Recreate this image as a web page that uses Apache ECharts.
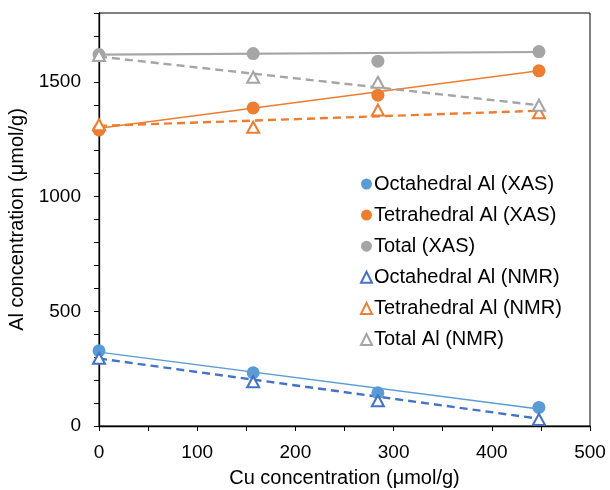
<!DOCTYPE html>
<html>
<head>
<meta charset="utf-8">
<script src="https://cdn.jsdelivr.net/npm/echarts@6/dist/echarts.min.js"></script>
<style>
  html, body { margin: 0; padding: 0; background: #fff; }
  #chart { width: 610px; height: 490px; }
</style>
</head>
<body>
<div id="chart"></div>
<script>
// Cu 浓度 (x)
var cuConc = [0, 157, 284, 448];

// 测量值
var octaXas = [328, 232, 145, 81];
var tetraXas = [1290, 1386, 1442, 1548];
var totalXas = [1619, 1623, 1590, 1632];
var octaNmr = [295, 193, 110, 29];
var tetraNmr = [1313, 1302, 1377, 1365];
var totalNmr = [1615, 1520, 1498, 1398];

// 趋势线两端 (x = 0 和 x = 448)
var trendX = [0, 448];
var octaXasTrend = [322, 74];
var tetraXasTrend = [1298, 1548];
var totalXasTrend = [1619, 1630];
var octaNmrTrend = [294, 32];
var tetraNmrTrend = [1308, 1374];
var totalNmrTrend = [1610, 1398];

var seriesNames = [
  'Octahedral Al (XAS)', 'Tetrahedral Al (XAS)', 'Total (XAS)',
  'Octahedral Al (NMR)', 'Tetrahedral Al (NMR)', 'Total Al (NMR)'
];

var pair = function (xs, ys) {
  return xs.map(function (x, i) { return [x, ys[i]]; });
};

var font = 'Liberation Sans, Arial, sans-serif';

var chart = echarts.init(document.getElementById('chart'));

var trend = function (ys, color, dashed, width) {
  return {
    type: 'line',
    data: pair(trendX, ys),
    symbol: 'none',
    silent: true,
    z: 1,
    lineStyle: { color: color, width: width, type: dashed ? [8, 5] : 'solid' }
  };
};

var dots = function (name, ys, color) {
  return {
    name: name,
    type: 'scatter',
    data: pair(cuConc, ys),
    symbol: 'circle',
    symbolSize: 13,
    z: 3,
    itemStyle: { color: color, opacity: 1 }
  };
};

var tris = function (name, ys, color) {
  return {
    name: name,
    type: 'scatter',
    data: pair(cuConc, ys),
    symbol: 'emptyTriangle',
    symbolSize: [12, 11],
    z: 4,
    itemStyle: { color: color, borderColor: color, borderWidth: 1.6, opacity: 1 }
  };
};

chart.setOption({
  animation: false,
  backgroundColor: '#fff',
  grid: {
    left: 99, right: 20, top: 13, bottom: 64,
    outerBoundsMode: 'none',
    containLabel: false,
    show: true, borderColor: '#000', borderWidth: 1
  },
  legend: {
    orient: 'vertical',
    left: 355,
    top: 169,
    itemWidth: 11,
    itemHeight: 11,
    itemGap: 11.1,
    data: [
      { name: seriesNames[0], icon: 'circle' },
      { name: seriesNames[1], icon: 'circle' },
      { name: seriesNames[2], icon: 'circle' },
      { name: seriesNames[3], icon: 'emptyTriangle' },
      { name: seriesNames[4], icon: 'emptyTriangle' },
      { name: seriesNames[5], icon: 'emptyTriangle' }
    ],
    textStyle: { fontFamily: font, fontSize: 20, color: '#000', lineHeight: 20, padding: [0, 0, 0, -3] }
  },
  xAxis: {
    type: 'value',
    min: 0, max: 500, interval: 50,
    name: 'Cu concentration (μmol/g)',
    nameLocation: 'middle',
    nameGap: 42,
    nameTextStyle: { fontFamily: font, fontSize: 20, color: '#000' },
    axisLine: { show: true, lineStyle: { color: '#000', width: 1.3 } },
    axisTick: { show: true, length: 5, lineStyle: { color: '#000' } },
    axisLabel: {
      fontFamily: font, fontSize: 19, color: '#000', margin: 17,
      formatter: function (v) { return v % 100 === 0 ? String(v) : ''; }
    },
    splitLine: { show: false }
  },
  yAxis: {
    type: 'value',
    min: 0, max: 1800, interval: 100,
    name: 'Al concentration (μmol/g)',
    nameLocation: 'middle',
    nameGap: 70,
    nameTextStyle: { fontFamily: font, fontSize: 20, color: '#000' },
    axisLine: { show: true, lineStyle: { color: '#000', width: 1.3 } },
    axisTick: { show: true, length: 5, lineStyle: { color: '#000' } },
    axisLabel: {
      fontFamily: font, fontSize: 19, color: '#000', margin: 18,
      formatter: function (v) { return v % 500 === 0 ? String(v) : ''; }
    },
    splitLine: { show: false }
  },
  series: [
    trend(octaXasTrend, '#5B9BD5', false, 1.5),
    trend(tetraXasTrend, '#ED7D31', false, 1.5),
    trend(totalXasTrend, '#A5A5A5', false, 2.2),
    trend(octaNmrTrend, '#4472C4', true, 2.4),
    trend(tetraNmrTrend, '#ED7D31', true, 2.4),
    trend(totalNmrTrend, '#A5A5A5', true, 2.4),
    dots(seriesNames[0], octaXas, '#5B9BD5'),
    dots(seriesNames[1], tetraXas, '#ED7D31'),
    dots(seriesNames[2], totalXas, '#A5A5A5'),
    tris(seriesNames[3], octaNmr, '#4472C4'),
    tris(seriesNames[4], tetraNmr, '#ED7D31'),
    tris(seriesNames[5], totalNmr, '#A5A5A5')
  ]
});
</script>
</body>
</html>
